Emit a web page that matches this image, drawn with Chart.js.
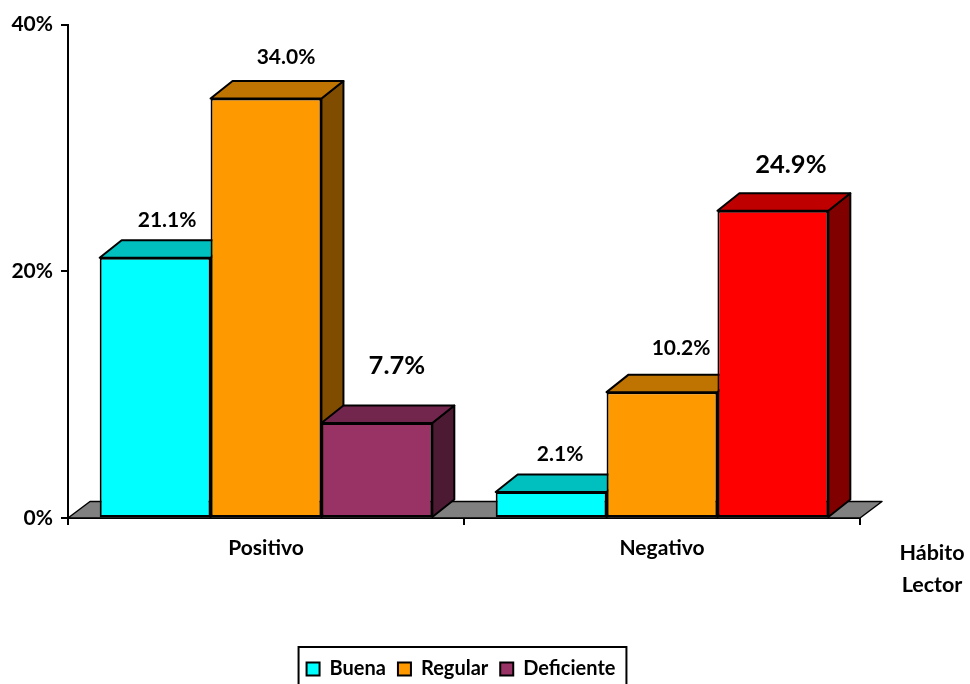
<!DOCTYPE html>
<html>
<head>
<meta charset="utf-8">
<title>Hábito Lector</title>
<script src="https://cdn.jsdelivr.net/npm/chart.js@4/dist/chart.umd.js"></script>
<style>
    html, body { margin: 0; padding: 0; background: #fff; overflow: hidden; }
    canvas { display: block; }
</style>
</head>
<body>
<canvas id="habitoChart" width="970" height="684"></canvas>
<script>
const categories = ['Positivo', 'Negativo'];
const buena = [21.1, 2.1];
const regular = [34.0, 10.2];
const deficiente = [7.7, 24.9];
const yTicks = [0, 20, 40];
const axisTitle = ['Hábito', 'Lector'];

const fontFamily = 'Lato';
const depthX = 22;
const depthY = 17.5;
const legendShift = 3;

// top and side shades of each front colour
const shades = {
    '#00FFFF': ['#00BFBF', '#008080'],
    '#FF9900': ['#BF7300', '#804D00'],
    '#993366': ['#73264D', '#4D1A33'],
    '#FF0000': ['#BF0000', '#800000']
};

// where each value label sits from its bar top [dx, dy, font size]
const labelStyle = [
    [[12, -37, 21], [9, -38, 21]],
    [[20, -41, 21], [19, -44, 21]],
    [[20, -57, 25.5], [18, -46, 25.5]]
];

function poly(ctx, pts, fill) {
    ctx.beginPath();
    pts.forEach((p, i) => i ? ctx.lineTo(p[0], p[1]) : ctx.moveTo(p[0], p[1]));
    ctx.closePath();
    ctx.fillStyle = fill;
    ctx.fill();
    ctx.stroke();
}

const bars3d = {
    id: 'bars3d',
    afterLayout(chart) {
        chart.legend.left -= legendShift;
        chart.legend.right -= legendShift;
    },
    beforeDatasetsDraw(chart) {
        const ctx = chart.ctx;
        const area = chart.chartArea;
        ctx.save();
        ctx.strokeStyle = '#000';
        ctx.lineWidth = 1.5;
        ctx.lineJoin = 'round';

        poly(ctx, [
            [area.left, area.bottom],
            [area.left + depthX, area.bottom - depthY + 1],
            [area.right + depthX, area.bottom - depthY + 1],
            [area.right, area.bottom]
        ], '#808080');

        ctx.lineWidth = 2;
        categories.forEach((c, i) => {
            chart.data.datasets.forEach((ds, d) => {
                const bar = chart.getDatasetMeta(d).data[i];
                const l = bar.x - bar.width / 2;
                const r = bar.x + bar.width / 2;
                const s = shades[ds.backgroundColor[i]];
                poly(ctx, [[r, bar.y], [r + depthX, bar.y - depthY], [r + depthX, bar.base - depthY], [r, bar.base]], s[1]);
                poly(ctx, [[l, bar.y], [l + depthX, bar.y - depthY], [r + depthX, bar.y - depthY], [r, bar.y]], s[0]);
            });
        });
        ctx.restore();
    },
    afterDatasetsDraw(chart) {
        const ctx = chart.ctx;
        ctx.save();
        ctx.fillStyle = '#000';
        ctx.textAlign = 'center';
        ctx.textBaseline = 'middle';
        chart.data.datasets.forEach((ds, d) => {
            chart.getDatasetMeta(d).data.forEach((bar, i) => {
                const st = labelStyle[d][i];
                ctx.font = 'bold ' + st[2] + 'px ' + fontFamily;
                ctx.fillText(ds.data[i].toFixed(1) + '%', bar.x + st[0], bar.y + st[1]);
            });
        });
        ctx.restore();
    },
    afterDraw(chart) {
        const ctx = chart.ctx;
        const boxes = chart.legend.legendHitBoxes;
        const first = boxes[0];
        const last = boxes[boxes.length - 1];
        const boxLeft = first.left - 8;
        ctx.save();
        ctx.strokeStyle = '#000';
        ctx.lineWidth = 2;
        ctx.strokeRect(boxLeft, 647, last.left + last.width + 11 - boxLeft, 60);

        ctx.fillStyle = '#000';
        ctx.font = 'bold 21.5px ' + fontFamily;
        ctx.textAlign = 'center';
        ctx.textBaseline = 'middle';
        axisTitle.forEach((t, i) => ctx.fillText(t, 932, 553 + i * 32));
        ctx.restore();
    }
};

const ctx = document.getElementById('habitoChart').getContext('2d');
const habitoChart = new Chart(ctx, {
    type: 'bar',
    plugins: [bars3d],
    data: {
        labels: categories,
        datasets: [
            { label: 'Buena', data: buena, backgroundColor: ['#00FFFF', '#00FFFF'] },
            { label: 'Regular', data: regular, backgroundColor: ['#FF9900', '#FF9900'] },
            { label: 'Deficiente', data: deficiente, backgroundColor: ['#993366', '#FF0000'] }
        ]
    },
    options: {
        responsive: false,
        animation: false,
        layout: { padding: { top: 24.5, right: 110, bottom: -5, left: 0 } },
        datasets: {
            bar: {
                categoryPercentage: 0.84,
                barPercentage: 1,
                borderColor: '#000',
                borderWidth: 2,
                borderSkipped: false
            }
        },
        plugins: {
            tooltip: { enabled: false },
            legend: {
                position: 'bottom',
                fullSize: false,
                labels: {
                    boxWidth: 13,
                    boxHeight: 13,
                    padding: 12,
                    color: '#000',
                    font: { family: fontFamily, size: 20, weight: 'bold' },
                    generateLabels(chart) {
                        return Chart.defaults.plugins.legend.labels.generateLabels(chart).map((item, i) => {
                            item.fillStyle = chart.data.datasets[i].backgroundColor[0];
                            item.strokeStyle = '#000';
                            item.lineWidth = 2;
                            return item;
                        });
                    }
                }
            }
        },
        scales: {
            x: {
                afterFit(scale) {
                    scale.height = 129;
                    scale.paddingLeft = 0;
                    scale.paddingRight = 0;
                },
                border: { color: '#000', width: 2 },
                grid: { drawOnChartArea: false, color: '#000', lineWidth: 2, tickLength: 7 },
                ticks: {
                    color: '#000',
                    padding: 11,
                    maxRotation: 0,
                    font: { family: fontFamily, size: 21, weight: 'bold' }
                }
            },
            y: {
                min: 0,
                max: 40,
                afterFit(scale) {
                    scale.width = 68;
                    scale.paddingTop = 0;
                    scale.paddingBottom = 0;
                },
                afterBuildTicks(scale) {
                    scale.ticks = yTicks.map(v => ({ value: v }));
                },
                border: { color: '#000', width: 2 },
                grid: { drawOnChartArea: false, color: '#000', lineWidth: 2, tickLength: 7 },
                ticks: {
                    color: '#000',
                    padding: 8,
                    callback: v => v + '%',
                    font: { family: fontFamily, size: 21, weight: 'bold' }
                }
            }
        }
    }
});
</script>
</body>
</html>
